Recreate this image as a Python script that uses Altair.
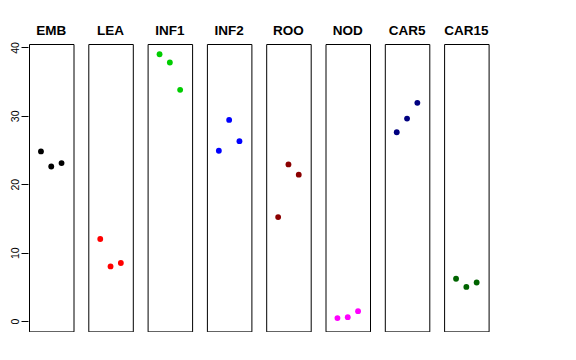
import altair as alt
import pandas as pd

groups = ["EMB", "LEA", "INF1", "INF2", "ROO", "NOD", "CAR5", "CAR15"]
colors = ["#000000", "#FF0000", "#00CD00", "#0000FF", "#8B0000", "#FF00FF", "#000080", "#006400"]
reps = [1, 2, 3]

emb = [24.8, 22.6, 23.1]
lea = [12.0, 8.0, 8.5]
inf1 = [39.0, 37.8, 33.8]
inf2 = [24.9, 29.4, 26.3]
roo = [15.2, 22.9, 21.4]
nod = [0.44, 0.58, 1.46]
car5 = [27.6, 29.6, 31.9]
car15 = [6.2, 5.0, 5.65]

series = [emb, lea, inf1, inf2, roo, nod, car5, car15]
rows = []
for g, vals in zip(groups, series):
    for r, v in zip(reps, vals):
        rows.append({"group": g, "rep": r, "value": v})
df = pd.DataFrame(rows)

base = alt.Chart(df).mark_circle(size=34, opacity=1).encode(
    x=alt.X("rep:Q", scale=alt.Scale(domain=[-0.16, 4.16], nice=False, zero=False), axis=None),
    y=alt.Y(
        "value:Q",
        scale=alt.Scale(domain=[-1.5, 40.5], nice=False, zero=False),
        axis=alt.Axis(
            values=[0, 10, 20, 30, 40], title=None, grid=False, domain=False,
            tickSize=7, tickColor="black", labelAngle=270, labelAlign="center",
            labelBaseline="bottom", labelPadding=1, labelFontSize=10.5,
            labelFont="Liberation Sans", labelColor="black",
        ),
    ),
    color=alt.Color("group:N", scale=alt.Scale(domain=groups, range=colors), legend=None),
).properties(width=44.5, height=287.4)

chart = base.facet(
    column=alt.Column(
        "group:N", sort=groups,
        header=alt.Header(
            title=None, labelFontSize=13.5, labelFontWeight="bold",
            labelFont="Liberation Sans", labelColor="black", labelPadding=6,
        ),
    ),
    spacing=13.3,
).configure_view(stroke="black", strokeWidth=1).properties(
    padding={"top": 15, "left": 2, "right": 0, "bottom": 0}
)

chart.save("out.html", embed_options={"renderer": "svg", "actions": False})
